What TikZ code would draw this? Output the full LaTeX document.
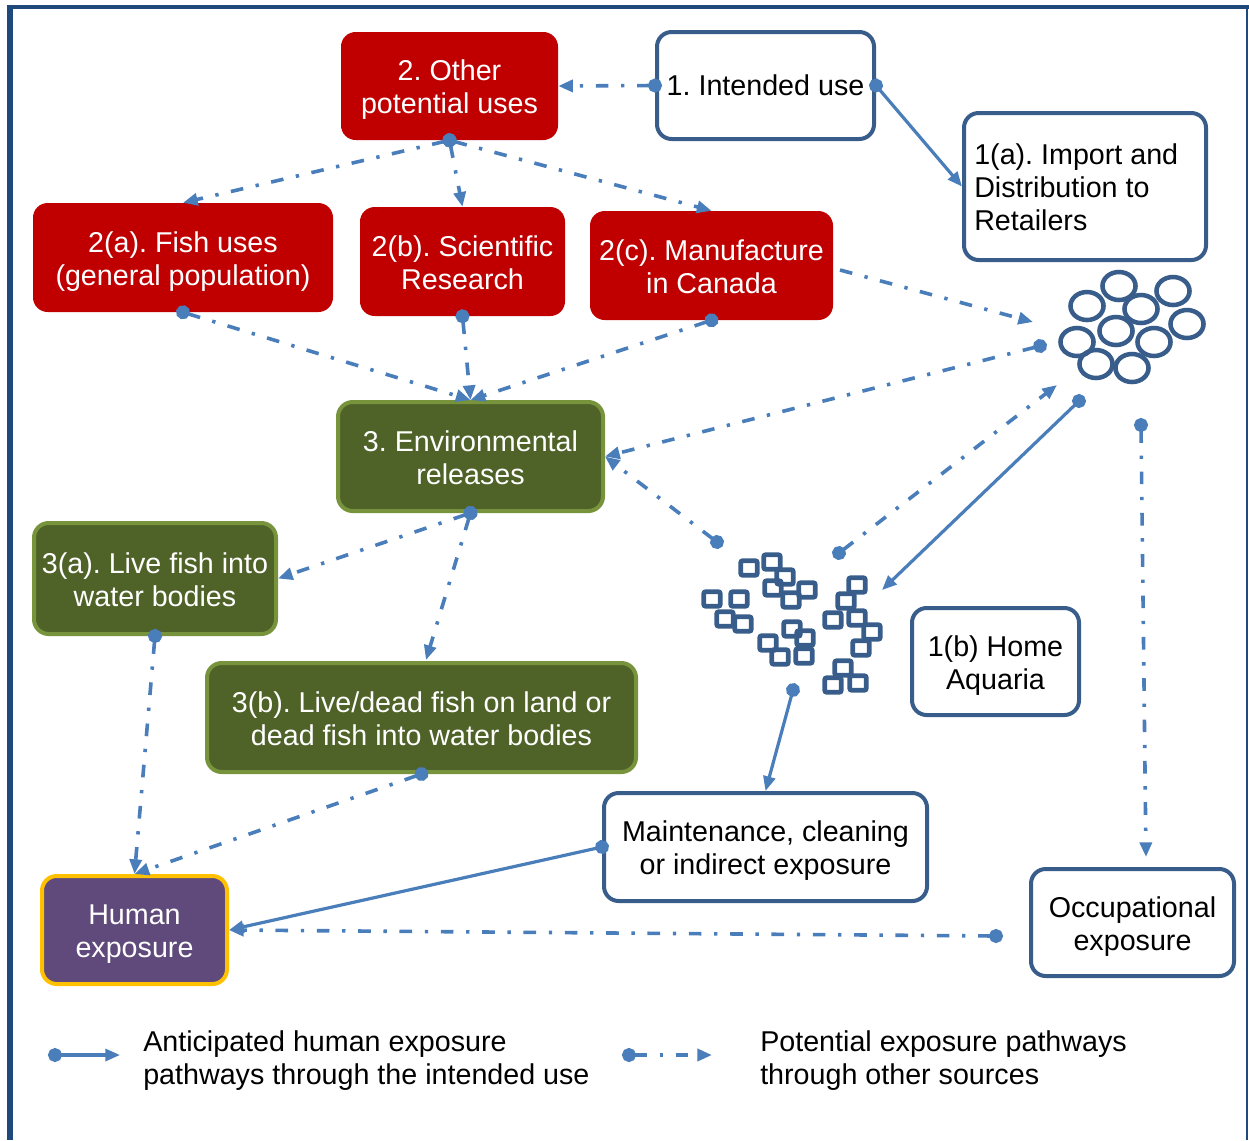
\documentclass[tikz,border=0pt]{standalone}
\usepackage{fontspec}
\setmainfont{Liberation Sans}
\usetikzlibrary{arrows.meta}
\definecolor{cred}{HTML}{C00000}
\definecolor{gfill}{HTML}{4F6228}
\definecolor{gbord}{HTML}{77933C}
\definecolor{pfill}{HTML}{604A7B}
\definecolor{cgold}{HTML}{FFC000}
\definecolor{cbord}{HTML}{385D8A}
\definecolor{cline}{HTML}{4A7EBB}
\definecolor{cframe}{HTML}{1F497D}
\newcommand\tstr{\rule{0pt}{23pt}}
\newcommand\bstr{\rule[-6pt]{0pt}{6pt}}
\frenchspacing
\begin{document}
\begin{tikzpicture}[x=0.75pt,y=-0.75pt,
  every node/.style={font=\fontsize{21.5}{24.75}\selectfont, inner sep=0pt},
  box/.style={rectangle, rounded corners=11pt, align=center},
  redbox/.style={box, fill=cred, text=white},
  wbox/.style={box, draw=cbord, line width=3pt, fill=white, text=black},
  gbox/.style={box, fill=gfill, draw=gbord, line width=3pt, text=white},
  hbox/.style={box, fill=pfill, draw=cgold, line width=3pt, text=white},
  conn/.style={color=cline, line width=2.4pt},
  solidc/.style={conn, {Circle[length=10.5pt]}-{Triangle[length=11pt,width=9pt]}, shorten <=-5.25pt},
  dashc/.style={solidc, line width=2.7pt, dash pattern=on 9.5pt off 9.5pt on 2.5pt off 9.5pt},
  dashn/.style={conn, line width=2.7pt, -{Triangle[length=11pt,width=9pt]}, dash pattern=on 9.5pt off 9.5pt on 2.5pt off 9.5pt},
  ring/.style={draw=cbord, line width=3.4pt},
  sq/.style={draw=cbord, line width=3.6pt, rounded corners=1.5pt},
]
\useasboundingbox (0,0) rectangle (1249,1140);
% frame
\draw[cframe, line width=4.5pt] (10,5) -- (10,1140);
\draw[cframe, line width=3pt] (7,7) -- (1249,7);
\draw[cframe, line width=1.5pt] (1246.5,7) -- (1246.5,1140);

% boxes
\node[redbox, minimum width=162.75pt, minimum height=81pt] (other) at (449.5,86) {\tstr 2. Other\\potential uses\bstr};
\node[wbox, minimum width=162.75pt, minimum height=80.25pt] (intended) at (765.5,85.5) {1. Intended use};
\node[wbox, minimum width=181.5pt, minimum height=110.25pt] (import) at (1085,186.5) {};
\node[anchor=west, align=left] (imptxt) at (974,187) {1(a). Import and\\Distribution to\\Retailers};
\node[redbox, minimum width=225pt, minimum height=81.75pt] (fisha) at (183,257.5) {\tstr 2(a). Fish uses\\(general population)\bstr};
\node[redbox, minimum width=153.75pt, minimum height=81.75pt] (scib) at (462.5,261.5) {\tstr 2(b). Scientific\\Research\bstr};
\node[redbox, minimum width=182.25pt, minimum height=81.75pt] (manu) at (711.5,265.5) {\tstr 2(c). Manufacture\\in Canada\bstr};
\node[gbox, minimum width=198.75pt, minimum height=81.75pt] (env) at (470.5,456.5) {\tstr 3. Environmental\\releases\bstr};
\node[gbox, minimum width=181.5pt, minimum height=83.25pt] (live) at (155,578.5) {\tstr 3(a). Live fish into\\water bodies\bstr};
\node[gbox, minimum width=321.75pt, minimum height=81.75pt] (dead) at (421.5,717.5) {\tstr 3(b). Live/dead fish on land or\\dead fish into water bodies\bstr};
\node[hbox, minimum width=138.75pt, minimum height=81pt] (human) at (134.5,930) {\tstr Human\\exposure\bstr};
\node[wbox, minimum width=242.25pt, minimum height=81pt] (maint) at (765.5,847) {\tstr Maintenance, cleaning\\or indirect exposure\bstr};
\node[wbox, minimum width=125.25pt, minimum height=80.25pt] (home) at (995.5,661.5) {\tstr 1(b) Home\\Aquaria\bstr};
\node[wbox, minimum width=152.25pt, minimum height=80.25pt] (occ) at (1132.5,922.5) {\tstr Occupational\\exposure\bstr};

% fish eggs (circles)
\foreach \x/\y in {1119/286,1173/291,1087/306,1141/309,1187/324,1116/331,1077/342,1154/342,1096/364,1132/368}
  \draw[ring] (\x,\y) ellipse [x radius=12.4pt, y radius=10.5pt];
% aquaria (squares)
\foreach \x/\y in {749/568,772/562,785/577,773/588,807/590,791/600,712/599,739/599,725/619,743/624,857/585,846/601,833/620,857/618,872/632,861/648,792/629,805/638,768/643,780/657,804/656,843/668,833/685,858/683}
  \draw[sq] (\x,\y) +(-8.25,-7.25) rectangle +(8.25,7.25);

% named points
\coordinate (c1) at (1040,346);
\coordinate (c2) at (1079,401);
\coordinate (c3) at (1141,425);
\coordinate (c4) at (1057,385);
\coordinate (c5) at (1033,322);
\coordinate (m1) at (840,270);
\coordinate (s1) at (717,542);
\coordinate (s2) at (839,553);
\coordinate (s3) at (882,590);
\coordinate (s4) at (793,690);
\coordinate (o1) at (996,936);
\coordinate (o2) at (1146,857);
\coordinate (dtop) at (426,660);

% connectors
\draw[dashc] (intended.west) -- (other.east);
\draw[solidc] (intended.east) -- (import.west);
\draw[dashc] (other.south) -- (fisha.north);
\draw[dashc] (other.south) -- (scib.north);
\draw[dashc] (other.south) -- (manu.north);
\draw[dashc] (fisha.south) -- (env.north);
\draw[dashc] (scib.south) -- (env.north);
\draw[dashc] (manu.south) -- (env.north);
\draw[dashn] (m1) -- (c5);
\draw[dashc] (c1) -- (env.east);
\draw[dashc] (s1) -- (env.east);
\draw[dashc] (s2) -- (c4);
\draw[solidc] (c2) -- (s3);
\draw[dashc] (c3) -- (o2);
\draw[dashc] (env.south) -- (live.east);
\draw[dashc] (env.south) -- (dtop);
\draw[dashc] (live.south) -- (human.north);
\draw[dashc] (dead.south) -- (human.north);
\draw[solidc] (s4) -- (maint.north);
\draw[solidc] (maint.west) -- (human.east);
\draw[dashc] (o1) -- (human.east);

% legend
\coordinate (l1) at (55,1055);
\coordinate (l2) at (120,1055);
\coordinate (l3) at (629,1055);
\coordinate (l4) at (712,1055);
\draw[solidc] (l1) -- (l2);
\draw[dashc] (l3) -- (l4);
\node[anchor=west, align=left] (leg1) at (143,1057) {\tstr Anticipated human exposure\\pathways through the intended use\bstr};
\node[anchor=west, align=left] (leg2) at (760,1057) {\tstr Potential exposure pathways\\through other sources\bstr};
\end{tikzpicture}
\end{document}
